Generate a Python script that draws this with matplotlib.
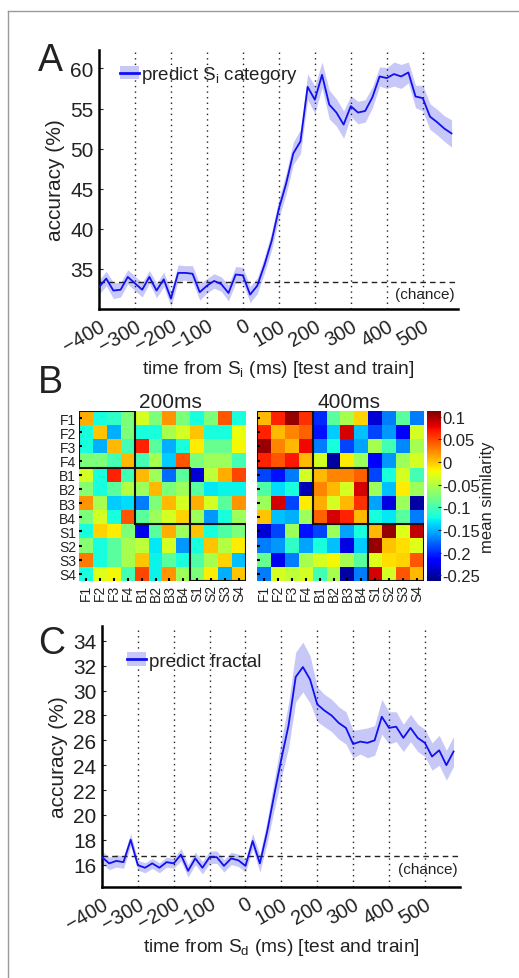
import numpy as np
import matplotlib
matplotlib.use('Agg')
import matplotlib.pyplot as plt
import matplotlib.transforms as mtransforms
from matplotlib.lines import Line2D
from matplotlib.patches import Patch, Rectangle

plt.rcParams['font.family'] = ['Liberation Sans', 'DejaVu Sans']
plt.rcParams['mathtext.fontset'] = 'custom'
plt.rcParams['mathtext.rm'] = 'Liberation Sans'
plt.rcParams['text.color'] = '#222222'
plt.rcParams['axes.labelcolor'] = '#222222'
plt.rcParams['xtick.color'] = '#222222'
plt.rcParams['ytick.color'] = '#222222'

# time axis (ms), 20 ms steps
tiempo = list(range(-400, 600, 20))

# panel A: predict Si category
acc_cat = [32.7, 33.8, 32.3, 32.4, 34.0, 33.2, 32.4, 34.0, 32.3, 33.7,
           31.3, 34.5, 34.5, 34.4, 32.1, 32.9, 33.5, 33.1, 32.0, 34.3,
           34.2, 31.8, 32.9, 35.5, 38.5, 42.5, 45.6, 49.4, 50.9, 57.7,
           56.1, 59.2, 55.5, 54.5, 53.0, 55.3, 54.5, 54.7, 56.4, 59.0,
           58.8, 59.3, 59.0, 59.5, 56.5, 56.3, 54.0, 53.3, 52.5, 51.9]
sem_cat = [0.9, 0.9, 1.0, 0.9, 0.9, 0.9, 0.9, 0.8, 0.9, 0.9,
           1.0, 1.0, 0.9, 1.0, 1.0, 0.9, 0.9, 0.9, 1.0, 1.0,
           1.0, 1.0, 1.0, 1.0, 1.1, 1.2, 1.3, 1.4, 1.5, 1.6,
           1.7, 1.6, 1.8, 1.7, 1.7, 1.3, 1.4, 1.4, 1.3, 1.2,
           1.3, 1.5, 1.5, 1.3, 1.4, 1.6, 1.6, 1.6, 1.6, 1.7]

# panel C: predict fractal
acc_frac = [16.6, 16.1, 16.3, 16.2, 18.0, 15.95, 15.75, 16.1, 15.75, 16.2,
            16.1, 16.8, 15.5, 16.5, 15.75, 16.6, 16.6, 15.9, 16.5, 16.35,
            15.9, 17.9, 16.1, 18.6, 21.6, 24.5, 27.2, 31.1, 31.9, 30.9,
            28.9, 28.4, 28.0, 27.4, 27.0, 25.7, 25.9, 25.8, 26.0, 27.9,
            27.0, 27.1, 26.2, 27.0, 26.2, 25.8, 24.7, 25.2, 24.0, 25.1]
sem_frac = [0.5, 0.5, 0.5, 0.5, 0.5, 0.4, 0.4, 0.4, 0.4, 0.4,
            0.4, 0.5, 0.5, 0.5, 0.5, 0.5, 0.5, 0.5, 0.5, 0.5,
            0.5, 0.6, 0.7, 0.9, 1.2, 1.5, 1.8, 2.0, 2.0, 1.9,
            1.4, 1.3, 1.3, 1.3, 1.3, 1.1, 1.0, 1.2, 1.2, 1.4,
            1.3, 1.2, 1.1, 1.1, 1.1, 1.1, 1.1, 1.2, 1.2, 1.2]

chance_cat = 100 / 3
chance_frac = 100 / 6

xticks = [-400, -300, -200, -100, 0, 100, 200, 300, 400, 500]
vlines = [-300, -200, -100, 0, 100, 200, 300, 400, 500]

etiquetas = ['F1', 'F2', 'F3', 'F4', 'B1', 'B2', 'B3', 'B4', 'S1', 'S2', 'S3', 'S4']

# panel B: mean similarity at 200 ms
sim_200 = [
    [0.01, -0.12, -0.11, -0.075, -0.035, -0.075, 0.02, -0.075, -0.12, -0.075, 0.045, -0.12],
    [-0.12, 0.0, -0.15, -0.075, -0.12, -0.12, -0.055, -0.035, 0.0, -0.12, -0.12, -0.025],
    [-0.12, -0.15, 0.005, -0.1, 0.065, -0.09, -0.15, -0.12, -0.015, -0.085, -0.085, -0.02],
    [-0.075, -0.075, -0.1, 0.005, -0.1, -0.055, -0.14, 0.045, -0.075, -0.06, -0.06, -0.1],
    [-0.035, -0.12, 0.065, -0.1, 0.005, -0.06, -0.175, -0.09, -0.235, -0.045, 0.01, 0.05],
    [-0.07, -0.12, -0.09, -0.05, -0.06, 0.005, -0.075, -0.06, -0.09, -0.13, -0.125, -0.125],
    [0.02, -0.055, -0.14, -0.135, -0.17, -0.075, 0.005, -0.035, 0.01, -0.035, -0.09, 0.02],
    [-0.075, -0.035, -0.12, 0.045, -0.09, -0.06, -0.035, -0.005, -0.06, -0.16, -0.12, -0.06],
    [-0.12, -0.005, -0.015, -0.075, -0.225, -0.09, 0.01, -0.06, 0.0, -0.12, -0.095, -0.075],
    [-0.07, -0.12, -0.09, -0.055, -0.045, -0.13, -0.035, -0.16, -0.12, 0.0, -0.05, -0.015],
    [0.03, -0.12, -0.09, -0.055, 0.0, -0.125, -0.09, -0.12, -0.095, -0.055, -0.005, -0.145],
    [-0.12, -0.03, -0.02, -0.1, 0.05, -0.125, 0.02, -0.06, -0.075, -0.015, -0.15, 0.0],
]

# panel B: mean similarity at 400 ms
sim_400 = [
    [0.005, 0.065, 0.105, 0.06, -0.2, -0.09, -0.055, -0.005, -0.235, -0.17, -0.09, -0.17],
    [0.065, 0.005, 0.025, 0.04, -0.21, -0.14, 0.085, -0.145, -0.19, -0.16, -0.22, -0.035],
    [0.105, 0.025, 0.005, 0.075, -0.17, -0.12, -0.19, -0.155, -0.055, -0.1, -0.165, -0.055],
    [0.065, 0.045, 0.07, 0.005, -0.035, -0.25, -0.015, -0.06, -0.215, -0.16, -0.06, -0.035],
    [-0.19, -0.21, -0.17, -0.035, 0.005, 0.025, 0.025, 0.04, -0.19, -0.12, -0.035, -0.1],
    [-0.095, -0.135, -0.12, -0.245, 0.025, 0.005, -0.035, 0.085, -0.06, -0.145, -0.015, -0.06],
    [-0.06, 0.085, -0.19, -0.015, 0.01, -0.035, 0.005, 0.06, -0.155, -0.23, -0.06, -0.25],
    [0.0, -0.145, -0.15, -0.06, 0.04, 0.085, 0.065, 0.005, -0.12, -0.13, -0.09, -0.17],
    [-0.235, -0.19, -0.06, -0.21, -0.19, -0.06, -0.155, -0.12, 0.005, 0.105, -0.03, 0.09],
    [-0.17, -0.16, -0.11, -0.155, -0.12, -0.145, -0.23, -0.14, 0.105, 0.0, -0.01, -0.03],
    [-0.085, -0.225, -0.17, -0.055, -0.035, -0.02, -0.055, -0.09, -0.03, -0.01, -0.005, 0.045],
    [-0.17, -0.035, -0.045, -0.035, -0.1, -0.055, -0.25, -0.17, 0.085, -0.035, 0.045, 0.005],
]
cbar_ticks = [0.1, 0.05, 0, -0.05, -0.1, -0.15, -0.2, -0.25]
cbar_labels = ['0.1', '0.05', '0', '-0.05', '-0.1', '-0.15', '-0.2', '-0.25']
vmin, vmax = -0.263, 0.113

W, H = 519, 979
fig = plt.figure(figsize=(W / 100, H / 100), dpi=100)


def caja(x0, y0, x1, y1):
    # pixel box (left, top, right, bottom) -> figure fraction
    return [x0 / W, 1 - y1 / H, (x1 - x0) / W, (y1 - y0) / H]


# marco gris
fig.add_artist(Line2D([8 / W, 1], [1 - 12 / H, 1 - 12 / H], color='#999999', lw=1))
fig.add_artist(Line2D([8 / W, 8 / W], [0, 1 - 12 / H], color='#999999', lw=1))


def panel_linea(rect, acc, sem, chance, ylim, yticks, etiqueta, xlabel, letra, letra_y, ley_pos):
    ax = fig.add_axes(caja(*rect))
    t = np.array(tiempo)
    a = np.array(acc)
    s = np.array(sem)
    ax.fill_between(t, a - s, a + s, color='#c8c8f8', lw=0, zorder=1)
    ax.plot(t, a, color='#1010f0', lw=1.3, zorder=3)
    for v in vlines:
        ax.axvline(v, color='#222222', ls=(0, (1, 3)), lw=1, zorder=2)
    ax.axhline(chance, color='#222222', ls=(0, (4, 3)), lw=1, zorder=2)
    ax.text(590, chance - (ylim[1] - ylim[0]) * 0.02, '(chance)', ha='right', va='top', fontsize=11)
    ax.set_xlim(-400, 598)
    ax.set_ylim(*ylim)
    ax.set_yticks(yticks)
    ax.set_xticks(xticks)
    ax.set_xticklabels(['\u2212' + str(-x) if x < 0 else str(x) for x in xticks],
                       rotation=30, ha='right', rotation_mode='anchor', fontsize=14.5)
    desplaza = mtransforms.ScaledTranslation(0.08, 0, fig.dpi_scale_trans)
    for lab in ax.get_xticklabels():
        lab.set_transform(lab.get_transform() + desplaza)
    ax.tick_params(axis='y', labelsize=15, direction='in', length=3, pad=4)
    ax.tick_params(axis='x', direction='in', length=0, pad=5)
    for lado in ['top', 'right']:
        ax.spines[lado].set_visible(False)
    for lado in ['left', 'bottom']:
        ax.spines[lado].set_linewidth(1.8)
        ax.spines[lado].set_color('black')
    ax.set_ylabel('accuracy (%)', fontsize=15, labelpad=4)
    ax.set_xlabel(xlabel, fontsize=13.8, labelpad=2)
    h = (Patch(color='#c8c8f8', lw=0), Line2D([], [], color='#1010f0', lw=2))
    ax.legend([h], [etiqueta], loc='center left', bbox_to_anchor=ley_pos, frameon=False,
              fontsize=13.5, handlelength=1.0, handletextpad=0.15, borderaxespad=0, borderpad=0)
    fig.text(38 / W, 1 - letra_y / H, letra, fontsize=27, ha='left', va='center')
    return ax


panel_linea((99, 51, 458, 310), acc_cat, sem_cat, chance_cat, (30.0, 62.3), [35, 40, 45, 50, 55, 60],
            r'predict S$_\mathrm{i}$ category', r'time from S$_\mathrm{i}$ (ms) [test and train]', 'A', 61,
            (0.058, 0.905))
panel_linea((102, 627, 460, 888), acc_frac, sem_frac, chance_frac, (14.2, 35.2),
            [16, 18, 20, 22, 24, 26, 28, 30, 32, 34],
            'predict fractal', r'time from S$_\mathrm{d}$ (ms) [test and train]', 'C', 644,
            (0.07, 0.866))

# panel B heatmaps
fig.text(38 / W, 1 - 383 / H, 'B', fontsize=27, ha='left', va='center')


def mapa(rect, datos, titulo, con_y):
    ax = fig.add_axes(caja(*rect))
    im = ax.imshow(np.array(datos), cmap='jet', vmin=vmin, vmax=vmax, aspect='auto',
                   interpolation='nearest')
    for k in range(3):
        ax.add_patch(Rectangle((4 * k - 0.5, 4 * k - 0.5), 4, 4, fill=False, ec='#111111', lw=1.5))
    ax.set_xticks(range(12))
    ax.set_yticks(range(12))
    ax.set_xticklabels(etiquetas, rotation=90, fontsize=10)
    if con_y:
        ax.set_yticklabels(etiquetas, fontsize=10)
    else:
        ax.set_yticklabels([])
    ax.tick_params(direction='in', length=2, width=1.5, pad=2, color='black')
    for sp in ax.spines.values():
        sp.set_visible(False)
    ax.set_title(titulo, fontsize=15, pad=2, x=0.55)
    return im


mapa((79, 412, 246, 582), sim_200, '200ms', True)
im = mapa((257, 412, 424, 582), sim_400, '400ms', False)

cax = fig.add_axes(caja(427, 412, 441, 582))
cb = fig.colorbar(im, cax=cax)
cb.set_ticks(cbar_ticks)
cb.set_ticklabels(cbar_labels)
cb.outline.set_visible(False)
cax.tick_params(labelsize=12, direction='in', length=2, pad=1)
cb.set_label('mean similarity', fontsize=12, labelpad=0)

fig.savefig('out.png', dpi=100)
